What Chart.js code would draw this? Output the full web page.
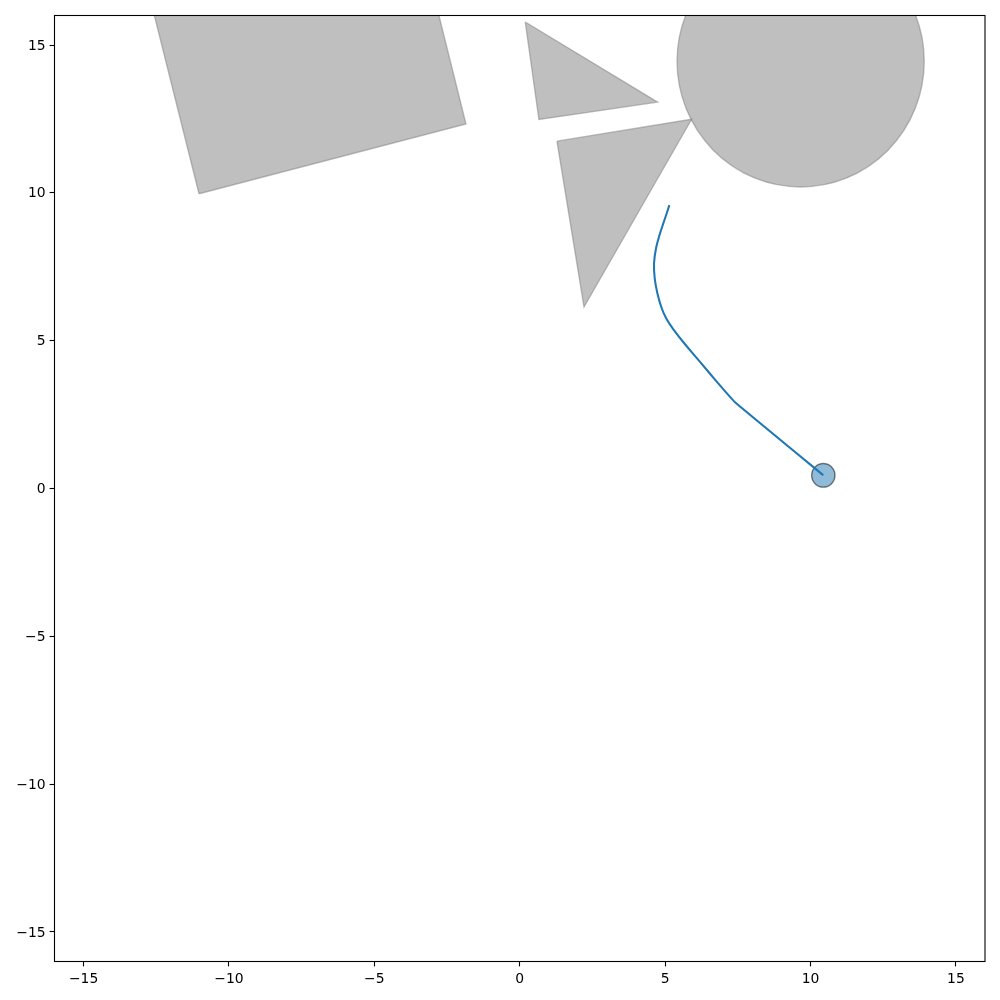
<!DOCTYPE html>
<html>
<head>
<meta charset="utf-8">
<title>Path and obstacles</title>
<script src="https://cdn.jsdelivr.net/npm/chart.js@4"></script>
<style>
  html, body { margin: 0; padding: 0; background: #fff; }
  canvas { display: block; }
</style>
</head>
<body>
<canvas id="chart" width="1000" height="1000"></canvas>
<script>
const tickValues = [-15, -10, -5, 0, 5, 10, 15];

// obstacles, polygons are closed by repeating the first corner
const rectX = [-11.03, -1.85, -3.76, -12.95, -11.03];
const rectY = [9.97, 12.33, 19.87, 17.51, 9.97];
const triangleAX = [0.19, 4.74, 0.66, 0.19];
const triangleAY = [15.78, 13.07, 12.48, 15.78];
const triangleBX = [1.28, 5.91, 2.21, 1.28];
const triangleBY = [11.75, 12.49, 6.14, 11.75];
const circleX = [9.66];
const circleY = [14.45];
const circleR = 4.25;

// travelled path
const pathX = [5.146, 4.997, 4.825, 4.687, 4.618, 4.641, 4.733, 4.882, 5.054, 5.283, 5.684, 6.2, 6.773, 7.404, 10.44];
const pathY = [9.583, 9.142, 8.635, 8.127, 7.62, 7.112, 6.605, 6.097, 5.725, 5.386, 4.879, 4.281, 3.615, 2.916, 0.446];

// robot
const robotX = [10.44];
const robotY = [0.446];
const robotR = 0.4;

const obstacleFill = 'rgba(128, 128, 128, 0.5)';
const obstacleEdge = 'rgba(128, 128, 128, 0.5)';
const fontSpec = { family: '"DejaVu Sans"', size: 13.9 };

function zip(xs, ys) {
  return xs.map((x, i) => ({ x: x, y: ys[i] }));
}

function unitSize(scale) {
  return Math.abs(scale.getPixelForValue(1) - scale.getPixelForValue(0));
}

function polygon(xs, ys) {
  return {
    data: zip(xs, ys),
    showLine: true,
    fill: 'shape',
    tension: 0,
    backgroundColor: obstacleFill,
    borderColor: obstacleEdge,
    borderWidth: 1.4,
    pointRadius: 0,
    clip: 0,
    order: 5
  };
}

function tickLabel(value) {
  return String(value).replace('-', '\u2212');
}

const framePlugin = {
  id: 'frame',
  afterDatasetsDraw(chart) {
    const a = chart.chartArea;
    const c = chart.ctx;
    c.save();
    c.strokeStyle = '#000';
    c.lineWidth = 1.1;
    c.strokeRect(a.left, a.top, a.right - a.left, a.bottom - a.top);
    c.restore();
  }
};

// the axes are not quite equal, so circles in data units come out as ellipses:
// stretch the drawing of those points in y around their centre
const ellipsePlugin = {
  id: 'ellipse',
  beforeDatasetDraw(chart, args) {
    const ds = chart.data.datasets[args.index];
    if (!ds.dataCircle) return;
    const a = chart.chartArea;
    const c = chart.ctx;
    const py = chart.scales.y.getPixelForValue(ds.data[0].y);
    c.save();
    c.beginPath();
    c.rect(a.left, a.top, a.right - a.left, a.bottom - a.top);
    c.clip();
    c.translate(0, py);
    c.scale(1, unitSize(chart.scales.y) / unitSize(chart.scales.x));
    c.translate(0, -py);
  },
  afterDatasetDraw(chart, args) {
    if (chart.data.datasets[args.index].dataCircle) chart.ctx.restore();
  }
};

function axis(position, size, labelPadding, labelShift) {
  return {
    type: 'linear',
    position: position,
    min: -16,
    max: 16,
    afterBuildTicks: scale => { scale.ticks = tickValues.map(v => ({ value: v })); },
    afterFit: scale => {
      if (position === 'left') scale.width = size;
      else scale.height = size;
    },
    border: { display: false },
    grid: {
      display: true,
      drawOnChartArea: false,
      drawTicks: true,
      tickLength: 4.9,
      tickWidth: 1.1,
      tickColor: '#000'
    },
    ticks: {
      color: '#000',
      font: fontSpec,
      padding: labelPadding,
      labelOffset: labelShift,
      autoSkip: false,
      maxRotation: 0,
      callback: tickLabel
    }
  };
}

new Chart(document.getElementById('chart'), {
  type: 'scatter',
  data: {
    datasets: [
      polygon(rectX, rectY),
      polygon(triangleAX, triangleAY),
      polygon(triangleBX, triangleBY),
      {
        data: zip(circleX, circleY),
        dataCircle: true,
        backgroundColor: obstacleFill,
        borderColor: obstacleEdge,
        borderWidth: 1.4,
        pointRadius: ctx => circleR * unitSize(ctx.chart.scales.x),
        clip: false,
        order: 5
      },
      {
        data: zip(robotX, robotY),
        dataCircle: true,
        backgroundColor: 'rgba(31, 119, 180, 0.5)',
        borderColor: 'rgba(0, 0, 0, 0.5)',
        borderWidth: 1.4,
        pointRadius: ctx => robotR * unitSize(ctx.chart.scales.x),
        clip: false,
        order: 2
      },
      {
        data: zip(pathX, pathY),
        showLine: true,
        fill: false,
        tension: 0.1,
        borderColor: '#1f77b4',
        borderWidth: 2.08,
        pointRadius: 0,
        clip: 0,
        order: 1
      }
    ]
  },
  options: {
    responsive: false,
    animation: false,
    events: [],
    layout: { padding: { top: 15.5, right: 15, left: 0, bottom: 0 } },
    plugins: {
      legend: { display: false },
      tooltip: { enabled: false }
    },
    scales: {
      x: axis('bottom', 38.5, 5, 0),
      y: axis('left', 54.5, 4, 1)
    }
  },
  plugins: [framePlugin, ellipsePlugin]
});
</script>
</body>
</html>
